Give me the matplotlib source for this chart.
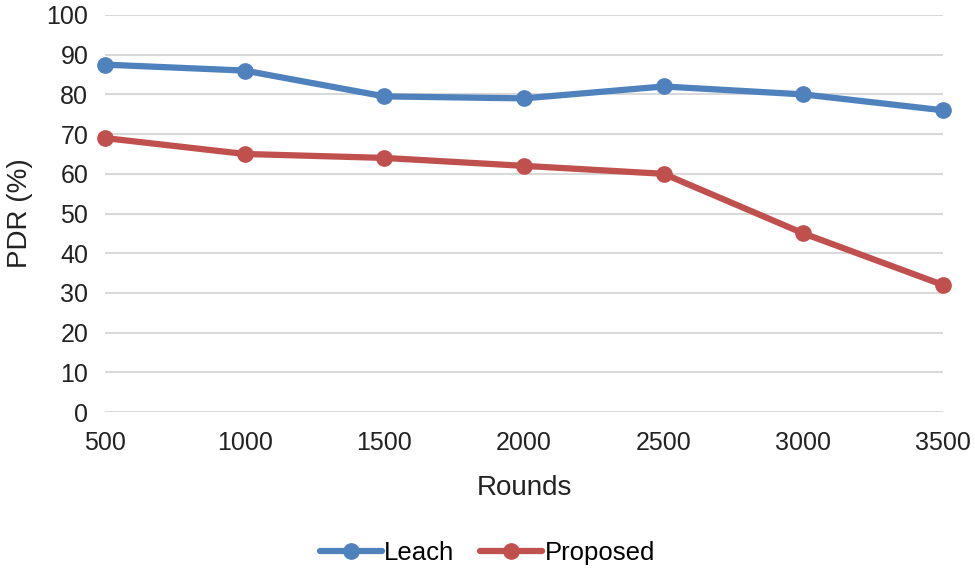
import matplotlib
import matplotlib.pyplot as plt
matplotlib.use('Agg')

plt.rcParams['font.family'] = ['Liberation Sans', 'DejaVu Sans']

# data
rounds = [500, 1000, 1500, 2000, 2500, 3000, 3500]
leach = [87.5, 86, 79.5, 79, 82, 80, 76]
proposed = [69, 65, 64, 62, 60, 45, 32]

fig = plt.figure(figsize=(9.75, 5.68), dpi=100)
ax = fig.add_axes([0.1077, 0.2746, 0.8595, 0.699])

ax.plot(rounds, leach, color='#4F81BD', linewidth=4.5, marker='o',
        markersize=11, label='Leach', solid_capstyle='round', clip_on=False)
ax.plot(rounds, proposed, color='#C0504D', linewidth=4.5, marker='o',
        markersize=11, label='Proposed', solid_capstyle='round', clip_on=False)

ax.set_xlim(500, 3500)
ax.set_ylim(0, 100)
ax.set_xticks(rounds)
ax.set_yticks(range(0, 101, 10))
ax.tick_params(axis='both', length=0, labelsize=18, colors='#222222')
ax.tick_params(axis='x', pad=14)
ax.tick_params(axis='y', pad=12)

# gridlines only, no frame
ax.grid(axis='y', color='#D9D9D9', linewidth=1.5)
ax.set_axisbelow(True)
for s in ax.spines.values():
    s.set_visible(False)

ax.set_xlabel('Rounds', fontsize=20, color='#222222', labelpad=14)
ax.set_ylabel('PDR (%)', fontsize=20, color='#222222', labelpad=10)

fig.legend(loc='center', bbox_to_anchor=(0.5, 0.026), ncol=2, frameon=False,
           fontsize=18.5, handlelength=2.4, handletextpad=0.1, columnspacing=1.0)

fig.savefig('out.png', dpi=100)
